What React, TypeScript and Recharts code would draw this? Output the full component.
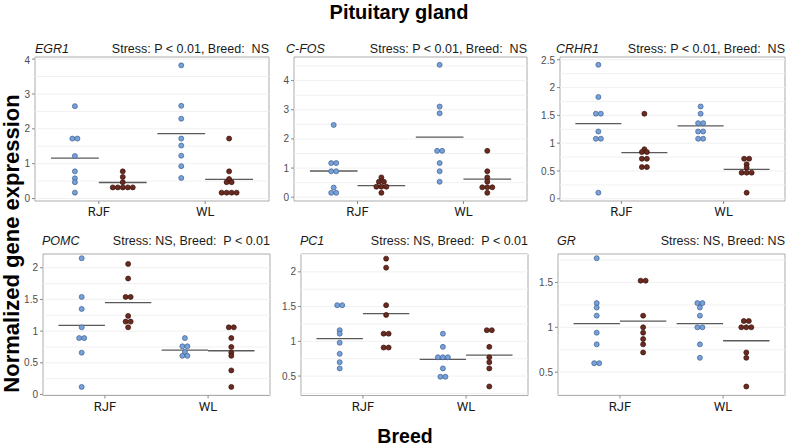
import React from 'react';
import { ScatterChart, Scatter, XAxis, YAxis, ReferenceLine, ReferenceArea } from 'recharts';

// ---------- data ----------
const breeds = ['RJF', 'WL'];
const genes = ['EGR1', 'C-FOS', 'CRHR1', 'POMC', 'PC1', 'GR'];
const statLabels = [
  'Stress: P < 0.01, Breed:\u00a0 NS',
  'Stress: P < 0.01, Breed:\u00a0 NS',
  'Stress: P < 0.01, Breed:\u00a0 NS',
  'Stress: NS, Breed:\u00a0 P < 0.01',
  'Stress: NS, Breed:\u00a0 P < 0.01',
  'Stress: NS, Breed: NS',
];

// blue = first group, brown = second group, for RJF and WL
const egr1RjfBlue = [2.65, 1.72, 1.72, 1.22, 0.78, 0.58, 0.47, 0.17];
const egr1RjfBrown = [0.78, 0.62, 0.47, 0.32, 0.32, 0.32, 0.32, 0.32];
const egr1WlBlue = [3.82, 2.66, 2.29, 1.72, 1.52, 1.23, 0.93, 0.59];
const egr1WlBrown = [1.72, 0.78, 0.56, 0.47, 0.47, 0.17, 0.17, 0.17, 0.17];
const egr1Means = [1.16, 0.46, 1.86, 0.55];

const cfosRjfBlue = [2.48, 1.17, 1.17, 0.89, 0.89, 0.33, 0.15, 0.15];
const cfosRjfBrown = [0.68, 0.53, 0.53, 0.36, 0.36, 0.36, 0.15];
const cfosWlBlue = [4.54, 3.11, 2.88, 1.59, 1.59, 1.17, 0.89, 0.53];
const cfosWlBrown = [1.59, 0.89, 0.68, 0.53, 0.34, 0.34, 0.34, 0.15];
const cfosMeans = [0.9, 0.4, 2.06, 0.62];

const crhr1RjfBlue = [2.41, 1.83, 1.53, 1.53, 1.21, 1.08, 1.08, 0.11];
const crhr1RjfBrown = [1.53, 0.89, 0.84, 0.84, 0.72, 0.72, 0.57, 0.57];
const crhr1WlBlue = [1.66, 1.53, 1.36, 1.36, 1.21, 1.21, 1.08, 1.08];
const crhr1WlBrown = [0.72, 0.72, 0.62, 0.56, 0.47, 0.47, 0.47, 0.11];
const crhr1Means = [1.35, 0.83, 1.31, 0.53];

const pomcRjfBlue = [2.15, 1.54, 1.35, 1.06, 0.89, 0.89, 0.66, 0.12];
const pomcRjfBrown = [2.06, 1.83, 1.54, 1.54, 1.24, 1.15, 1.15, 1.06];
const pomcWlBlue = [0.89, 0.76, 0.76, 0.67, 0.61, 0.61];
const pomcWlBrown = [1.06, 1.06, 0.89, 0.75, 0.66, 0.61, 0.38, 0.12];
const pomcMeans = [1.09, 1.45, 0.7, 0.69];

const pc1RjfBlue = [1.52, 1.52, 1.16, 1.11, 0.98, 0.82, 0.7, 0.61];
const pc1RjfBrown = [2.19, 2.06, 1.52, 1.38, 1.11, 1.11, 0.91, 0.91];
const pc1WlBlue = [1.11, 0.92, 0.77, 0.77, 0.77, 0.61, 0.49, 0.49];
const pc1WlBrown = [1.16, 1.16, 0.92, 0.77, 0.7, 0.61, 0.35];
const pc1Means = [1.04, 1.4, 0.74, 0.8];

const grRjfBlue = [1.77, 1.27, 1.22, 1.13, 0.94, 0.81, 0.6, 0.6];
const grRjfBrown = [1.52, 1.52, 1.13, 1.0, 0.94, 0.87, 0.81, 0.72];
const grWlBlue = [1.27, 1.27, 1.22, 1.13, 1.0, 1.0, 0.81, 0.66];
const grWlBrown = [1.07, 1.07, 1.0, 1.0, 1.0, 0.72, 0.66, 0.34];
const grMeans = [1.04, 1.07, 1.04, 0.85];

// axis ranges and ticks
const egr1Domain = [-0.07, 4.06];
const egr1Ticks = [0, 1, 2, 3, 4];
const egr1Minor = [0.5, 1.5, 2.5, 3.5];
const cfosDomain = [-0.13, 4.81];
const cfosTicks = [0, 1, 2, 3, 4];
const cfosMinor = [0.5, 1.5, 2.5, 3.5, 4.5];
const crhr1Domain = [-0.04, 2.55];
const crhr1Ticks = [0, 0.5, 1, 1.5, 2, 2.5];
const crhr1Minor = [0.25, 0.75, 1.25, 1.75, 2.25];
const pomcDomain = [-0.016, 2.217];
const pomcTicks = [0, 0.5, 1, 1.5, 2];
const pomcMinor = [0.25, 0.75, 1.25, 1.75];
const pc1Domain = [0.22, 2.257];
const pc1Ticks = [0.5, 1, 1.5, 2];
const pc1Minor = [0.25, 0.75, 1.25, 1.75, 2.25];
const grDomain = [0.24, 1.817];
const grTicks = [0.5, 1, 1.5];
const grMinor = [0.25, 0.75, 1.25, 1.75];

// ---------- styles / layout ----------
const SANS = "'Liberation Sans', Arial, sans-serif";
const NARROW = "'Liberation Sans Narrow', 'Arial Narrow', Roboto, sans-serif";
const BLUE_FILL = '#77a1da';
const BLUE_STROKE = '#3e5f8e';
const BROWN_FILL = '#6b2a20';
const BROWN_STROKE = '#38130c';
const MEAN_COLOR = '#5a5a5a';
const GRID_COLOR = '#f1f1f1';
const BORDER_COLOR = '#ababab';
const DODGE = 0.225;
const DOT_PX = 5;

// plot boxes [left, top, right, bottom]
const boxes = [
  [35, 56.5, 269, 200.5],
  [294, 56.5, 527, 200.5],
  [560, 56.5, 785, 200.5],
  [43, 253.5, 270, 395],
  [301, 253.5, 528, 395],
  [558, 253.5, 785, 395],
];
const geneLabelX = [35, 286, 556, 42, 300, 557];

const panels = [
  { groups: [egr1RjfBlue, egr1RjfBrown, egr1WlBlue, egr1WlBrown], means: egr1Means, domain: egr1Domain, ticks: egr1Ticks, minor: egr1Minor },
  { groups: [cfosRjfBlue, cfosRjfBrown, cfosWlBlue, cfosWlBrown], means: cfosMeans, domain: cfosDomain, ticks: cfosTicks, minor: cfosMinor },
  { groups: [crhr1RjfBlue, crhr1RjfBrown, crhr1WlBlue, crhr1WlBrown], means: crhr1Means, domain: crhr1Domain, ticks: crhr1Ticks, minor: crhr1Minor },
  { groups: [pomcRjfBlue, pomcRjfBrown, pomcWlBlue, pomcWlBrown], means: pomcMeans, domain: pomcDomain, ticks: pomcTicks, minor: pomcMinor },
  { groups: [pc1RjfBlue, pc1RjfBrown, pc1WlBlue, pc1WlBrown], means: pc1Means, domain: pc1Domain, ticks: pc1Ticks, minor: pc1Minor },
  { groups: [grRjfBlue, grRjfBrown, grWlBlue, grWlBrown], means: grMeans, domain: grDomain, ticks: grTicks, minor: grMinor },
];

// group positions: RJF blue, RJF brown, WL blue, WL brown
const groupCenter = (g: number) => (g < 2 ? 1 : 2) + (g % 2 === 0 ? -DODGE : DODGE);

function spread(values: number[], center: number, step: number) {
  const byKey = new Map<string, number[]>();
  values.forEach((v, i) => {
    const k = v.toFixed(2);
    if (!byKey.has(k)) byKey.set(k, []);
    byKey.get(k)!.push(i);
  });
  return values.map((v, i) => {
    const idx = byKey.get(v.toFixed(2))!;
    const k = idx.indexOf(i);
    return { x: center + (k - (idx.length - 1) / 2) * step, y: v };
  });
}

const Y_AXIS_W = 30;
const X_AXIS_H = 26;
const PAD = 2;

function Panel({ p, box }: { p: any; box: number[] }) {
  const [l, t, r, b] = box;
  const plotW = r - l;
  const step = (DOT_PX * 2.2) / plotW;
  const width = plotW + Y_AXIS_W + PAD;
  const height = b - t + X_AXIS_H + PAD;
  return (
    <div style={{ position: 'absolute', left: l - Y_AXIS_W, top: t - PAD }}>
      <ScatterChart width={width} height={height} margin={{ top: PAD, right: PAD, left: 0, bottom: 0 }} style={{ overflow: 'visible' }}>
        <XAxis
          type="number"
          dataKey="x"
          domain={[0.4, 2.6]}
          ticks={[1, 2]}
          tickFormatter={(v: number) => breeds[v - 1]}
          allowDataOverflow
          height={X_AXIS_H}
          axisLine={false}
          tickSize={3}
          tickMargin={3}
          tickLine={{ stroke: '#888' }}
          tick={{ fontSize: 13, fill: '#1a1a1a', fontFamily: NARROW }}
        />
        <YAxis
          type="number"
          dataKey="y"
          domain={p.domain}
          ticks={p.ticks}
          allowDataOverflow
          width={Y_AXIS_W}
          axisLine={false}
          tickSize={3}
          tickMargin={2}
          tickLine={{ stroke: '#888' }}
          tick={{ fontSize: 10, fill: '#4d4d4d', fontFamily: SANS }}
        />
        {[...p.minor, ...p.ticks].map((v: number) => (
          <ReferenceLine key={'g' + v} y={v} stroke={GRID_COLOR} strokeWidth={1} />
        ))}
        <ReferenceArea x1={0.4} x2={2.6} y1={p.domain[0]} y2={p.domain[1]} fill="none" stroke={BORDER_COLOR} strokeWidth={1} ifOverflow="visible" />
        {p.means.map((m: number, g: number) => (
          <ReferenceLine
            key={'m' + g}
            segment={[
              { x: groupCenter(g) - DODGE, y: m },
              { x: groupCenter(g) + DODGE, y: m },
            ]}
            stroke={MEAN_COLOR}
            strokeWidth={1.3}
          />
        ))}
        {p.groups.map((vals: number[], g: number) => {
          const blue = g % 2 === 0;
          return (
            <Scatter
              key={'s' + g}
              data={spread(vals, groupCenter(g), step)}
              isAnimationActive={false}
              shape={(props: any) => (
                <circle
                  cx={props.cx}
                  cy={props.cy}
                  r={2.5}
                  fill={blue ? BLUE_FILL : BROWN_FILL}
                  stroke={blue ? BLUE_STROKE : BROWN_STROKE}
                  strokeWidth={0.7}
                />
              )}
            />
          );
        })}
      </ScatterChart>
    </div>
  );
}

export default function App() {
  return (
    <div style={{ position: 'absolute', left: 0, top: 0, width: 789, height: 447, background: '#fff', overflow: 'hidden' }}>
      {panels.map((p, i) => (
        <Panel key={i} p={p} box={boxes[i]} />
      ))}
      <svg width={789} height={447} style={{ position: 'absolute', left: 0, top: 0, pointerEvents: 'none' }}>
        <text x={399} y={19} textAnchor="middle" fontFamily={SANS} fontWeight="bold" fontSize={20} fill="#000">
          Pituitary gland
        </text>
        {genes.map((g, i) => (
          <text
            key={'gene' + i}
            x={geneLabelX[i]}
            y={i < 3 ? 52.7 : 244.7}
            fontFamily={SANS}
            fontStyle="italic"
            fontSize={12.5}
            fill="#1a1a1a"
          >
            {g}
          </text>
        ))}
        {statLabels.map((s, i) => (
          <text
            key={'stat' + i}
            x={boxes[i][2]}
            y={i < 3 ? 52.7 : 244.7}
            textAnchor="end"
            fontFamily={SANS}
            fontSize={12.5}
            fill="#1a1a1a"
          >
            {s}
          </text>
        ))}
        <text
          x={0}
          y={0}
          transform="translate(19,243.5) rotate(-90)"
          textAnchor="middle"
          fontFamily={SANS}
          fontWeight="bold"
          fontSize={22}
          fill="#000"
        >
          Normalized gene expression
        </text>
        <text x={405} y={442.5} textAnchor="middle" fontFamily={SANS} fontWeight="bold" fontSize={19.5} fill="#000">
          Breed
        </text>
      </svg>
    </div>
  );
}
